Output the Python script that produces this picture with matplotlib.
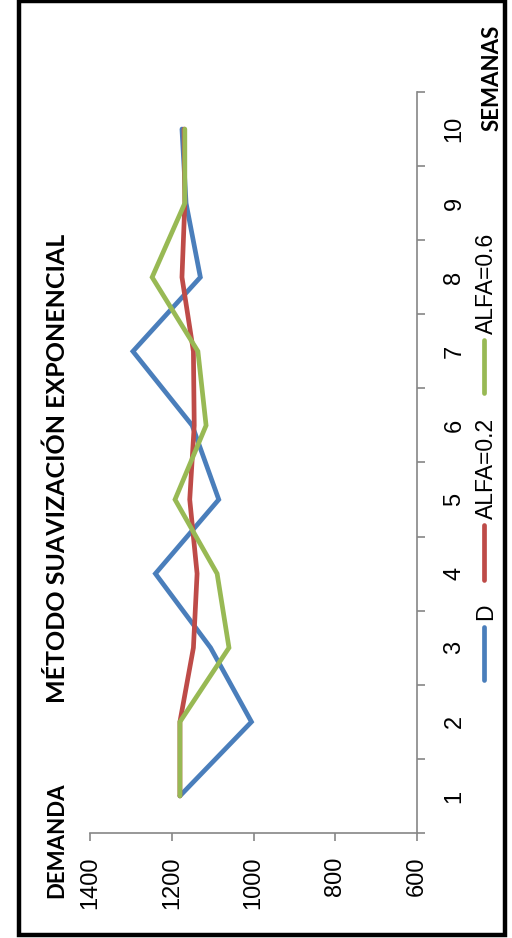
import numpy as np
import matplotlib
matplotlib.use("Agg")
import matplotlib.pyplot as plt
from matplotlib.lines import Line2D
from matplotlib.patches import Rectangle

plt.rcParams['font.family'] = ['Liberation Sans', 'DejaVu Sans']
BOLD = ['Lato', 'DejaVu Sans']

semanas = [1, 2, 3, 4, 5, 6, 7, 8, 9, 10]
demanda = [1180, 1005, 1105, 1240, 1085, 1150, 1295, 1130, 1165, 1175]
alfa_02 = [1180, 1180, 1147, 1138, 1156, 1145, 1147, 1175, 1168, 1170]
alfa_06 = [1180, 1180, 1060, 1089, 1192, 1116, 1136, 1248, 1168, 1168]
series_names = ["D", "ALFA=0.2", "ALFA=0.6"]
colors = ["#4A7EBB", "#BE4B48", "#98B954"]
y_ticks = [600, 800, 1000, 1200, 1400]

W, H = 512, 938
fig = plt.figure(figsize=(W / 100, H / 100), dpi=100)

def fx(px):
    return px / W

def fy(py):
    return 1 - py / H

# chart is drawn turned a quarter turn: demand runs right-to-left, weeks bottom-to-top
ax = fig.add_axes([fx(90), fy(833), fx(417) - fx(90), fy(92) - fy(833)])
for vals, c in zip([demanda, alfa_02, alfa_06], colors):
    ax.plot(vals, semanas, color=c, lw=3.4, solid_capstyle='round', solid_joinstyle='miter')

ax.set_xlim(1400, 600)
ax.set_ylim(0.5, 10.5)
grey = "#868686"
for s in ['top', 'left']:
    ax.spines[s].set_visible(False)
for s in ['bottom', 'right']:
    ax.spines[s].set_color(grey)
    ax.spines[s].set_linewidth(1.2)

ax.set_xticks(y_ticks)
ax.set_xticklabels([str(v) for v in y_ticks], rotation=90, fontsize=17)
ax.tick_params(axis='x', direction='out', length=6, width=1.2, color=grey, pad=11)

ax.yaxis.tick_right()
ax.set_yticks(np.arange(0.5, 11, 1.0))
ax.set_yticklabels([])
ax.set_yticks(semanas, minor=True)
ax.set_yticklabels([str(s) for s in semanas], minor=True, rotation=90,
                   fontsize=17, va='center')
ax.tick_params(axis='y', which='major', direction='out', length=6, width=1.2, color=grey)
ax.tick_params(axis='y', which='minor', length=0, pad=19)

fig.text(fx(57), fy(468), "MÉTODO SUAVIZACIÓN EXPONENCIAL", rotation=90,
         ha='center', va='center', fontsize=18, fontweight='bold', family=BOLD)
fig.text(fx(57), fy(840), "DEMANDA", rotation=90, ha='center', va='center',
         fontsize=16, fontweight='bold', family=BOLD)
fig.text(fx(492), fy(78), "SEMANAS", rotation=90, ha='center', va='center',
         fontsize=16, fontweight='bold', family=BOLD)

# legend, turned like the chart
leg_lines = [(627, 680), (525, 580), (340, 393)]
leg_text_y = [612, 468, 283]
for (y0, y1), ty, name, c in zip(leg_lines, leg_text_y, series_names, colors):
    fig.add_artist(Line2D([fx(484), fx(484)], [fy(y0), fy(y1)], color=c, lw=3.4,
                          solid_capstyle='round', transform=fig.transFigure))
    fig.text(fx(486), fy(ty), name, rotation=90, ha='center', va='center', fontsize=16.5)

fig.add_artist(Rectangle((fx(19), fy(935)), fx(505) - fx(19), fy(1) - fy(935),
                         transform=fig.transFigure, fill=False, ec='black', lw=3.2))

fig.savefig("out.png", dpi=100)
